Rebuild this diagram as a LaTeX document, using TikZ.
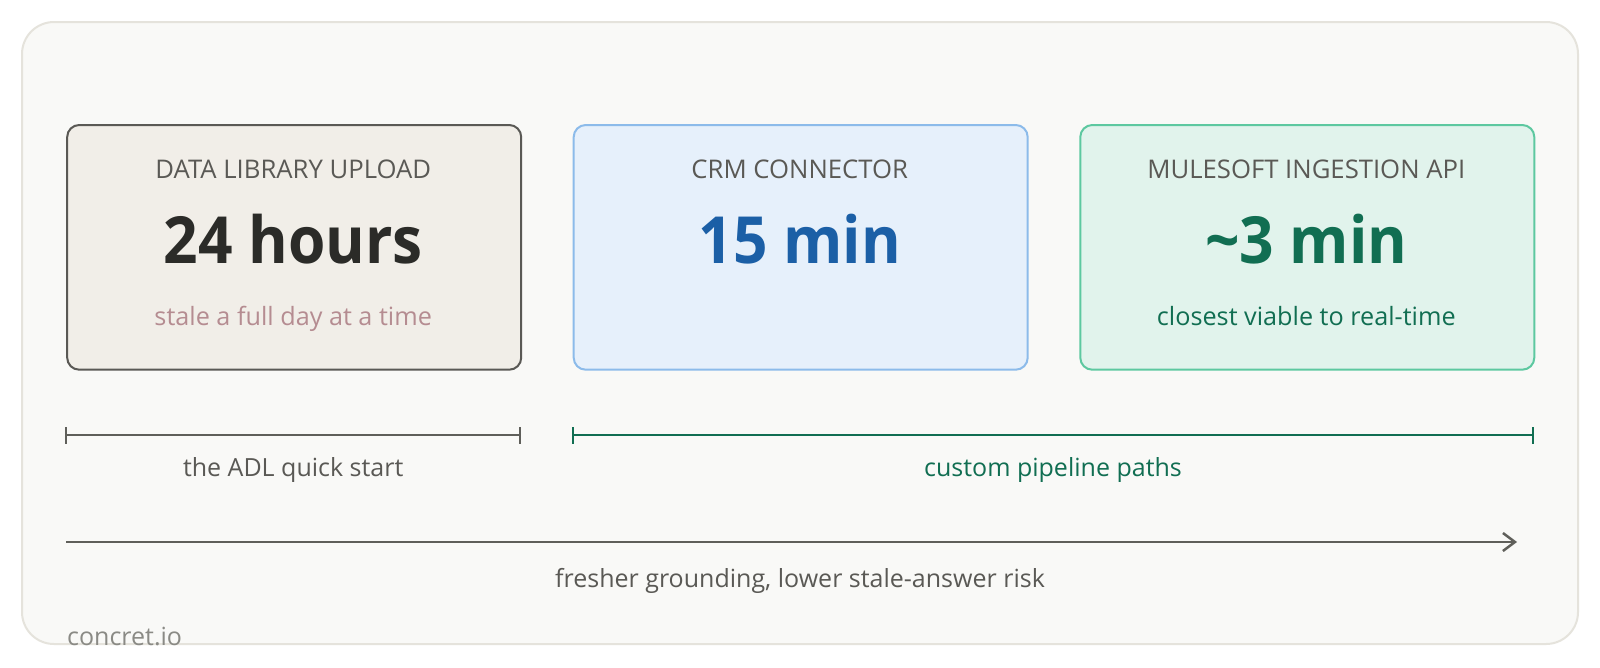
\documentclass[tikz,border=0pt]{standalone}
\usepackage{fontspec}
\usepackage{graphicx}
\setmainfont{Open Sans}
\usetikzlibrary{arrows.meta}
\definecolor{outerfill}{HTML}{F9F9F7}
\definecolor{outerline}{HTML}{E5E3DC}
\definecolor{grayfill}{HTML}{F1EEE8}
\definecolor{grayline}{HTML}{5A5955}
\definecolor{titlecol}{HTML}{5A5955}
\definecolor{darknum}{HTML}{2B2B28}
\definecolor{stalecol}{HTML}{B58C91}
\definecolor{bluefill}{HTML}{E6F0FB}
\definecolor{blueline}{HTML}{8CBBEA}
\definecolor{bluenum}{HTML}{1B5FA6}
\definecolor{greenfill}{HTML}{E1F3EC}
\definecolor{greenline}{HTML}{5DC8A0}
\definecolor{greennum}{HTML}{116E52}
\definecolor{axisgray}{HTML}{5F5F5A}
\definecolor{brandgray}{HTML}{8A8A85}
\newcommand{\bignumtext}[1]{\scalebox{0.93}[1]{#1}}
\tikzset{
  card/.style={draw, line width=2pt, rounded corners=12pt, minimum width=454pt, minimum height=244.7pt, inner sep=0pt, anchor=north west},
  titletxt/.style={anchor=base, text=titlecol, font=\fontsize{25.7}{30}\selectfont, inner sep=0pt},
  bignum/.style={anchor=base, font=\fontsize{65}{76}\selectfont\bfseries, inner sep=0pt},
  subtxt/.style={anchor=base, font=\fontsize{25.2}{30}\selectfont, inner sep=0pt},
  labtxt/.style={anchor=base, font=\fontsize{25}{30}\selectfont, inner sep=0pt},
  brace/.style={line width=2pt},
}
\begin{document}
\begin{tikzpicture}[x=1pt,y=-1pt]
\useasboundingbox (0,0) rectangle (1600,667);
\fill[white] (0,0) rectangle (1600,667);
\draw[fill=outerfill, draw=outerline, line width=2pt, rounded corners=32pt] (22,22) rectangle (1578,644);

% cards
\node[card, fill=grayfill, draw=grayline] (c1) at (66.2,124) {};
\node[card, fill=bluefill, draw=blueline] (c2) at (572.7,124) {};
\node[card, fill=greenfill, draw=greenline] (c3) at (1079.3,124) {};

\node[titletxt] (t1) at (293.2,178) {DATA LIBRARY UPLOAD};
\node[bignum, text=darknum] (n1) at (293.2,263) {\bignumtext{24 hours}};
\node[subtxt, text=stalecol] (s1) at (293.2,325) {stale a full day at a time};

\node[titletxt] (t2) at (799.7,178) {CRM CONNECTOR};
\node[bignum, text=bluenum] (n2) at (799.7,263) {\bignumtext{15 min}};

\node[titletxt] (t3) at (1306.3,178) {MULESOFT INGESTION API};
\node[bignum, text=greennum] (n3) at (1306.3,263) {\bignumtext{\char"007E 3 min}};
\node[subtxt, text=greennum] (s3) at (1306.3,325) {closest viable to real-time};

% brackets
\coordinate (b1l) at (66.2,435);
\coordinate (b1r) at (520.2,435);
\draw[brace, draw=axisgray] (b1l) -- (b1r);
\draw[brace, draw=axisgray] ([yshift=-8.5pt]b1l) -- ([yshift=8.5pt]b1l);
\draw[brace, draw=axisgray] ([yshift=-8.5pt]b1r) -- ([yshift=8.5pt]b1r);
\node[labtxt, text=titlecol] (l1) at (293.2,476) {the ADL quick start};

\coordinate (b2l) at (572.7,435);
\coordinate (b2r) at (1533.3,435);
\draw[brace, draw=greennum] (b2l) -- (b2r);
\draw[brace, draw=greennum] ([yshift=-8.5pt]b2l) -- ([yshift=8.5pt]b2l);
\draw[brace, draw=greennum] ([yshift=-8.5pt]b2r) -- ([yshift=8.5pt]b2r);
\node[labtxt, text=greennum] (l2) at (1053,476) {custom pipeline paths};

% arrow
\coordinate (a0) at (66.2,542);
\coordinate (a1) at (1517,542);
\draw[line width=2.5pt, draw=axisgray, -{Straight Barb[length=12pt,width=18pt,line width=2.5pt]}] (a0) -- (a1);
\node[labtxt, text=titlecol] (l3) at (800,587) {fresher grounding, lower stale-answer risk};

\node[anchor=base west, inner sep=0pt, text=brandgray, font=\fontsize{25}{30}\selectfont] (brand) at (67,645) {concret.io};
\end{tikzpicture}
\end{document}
